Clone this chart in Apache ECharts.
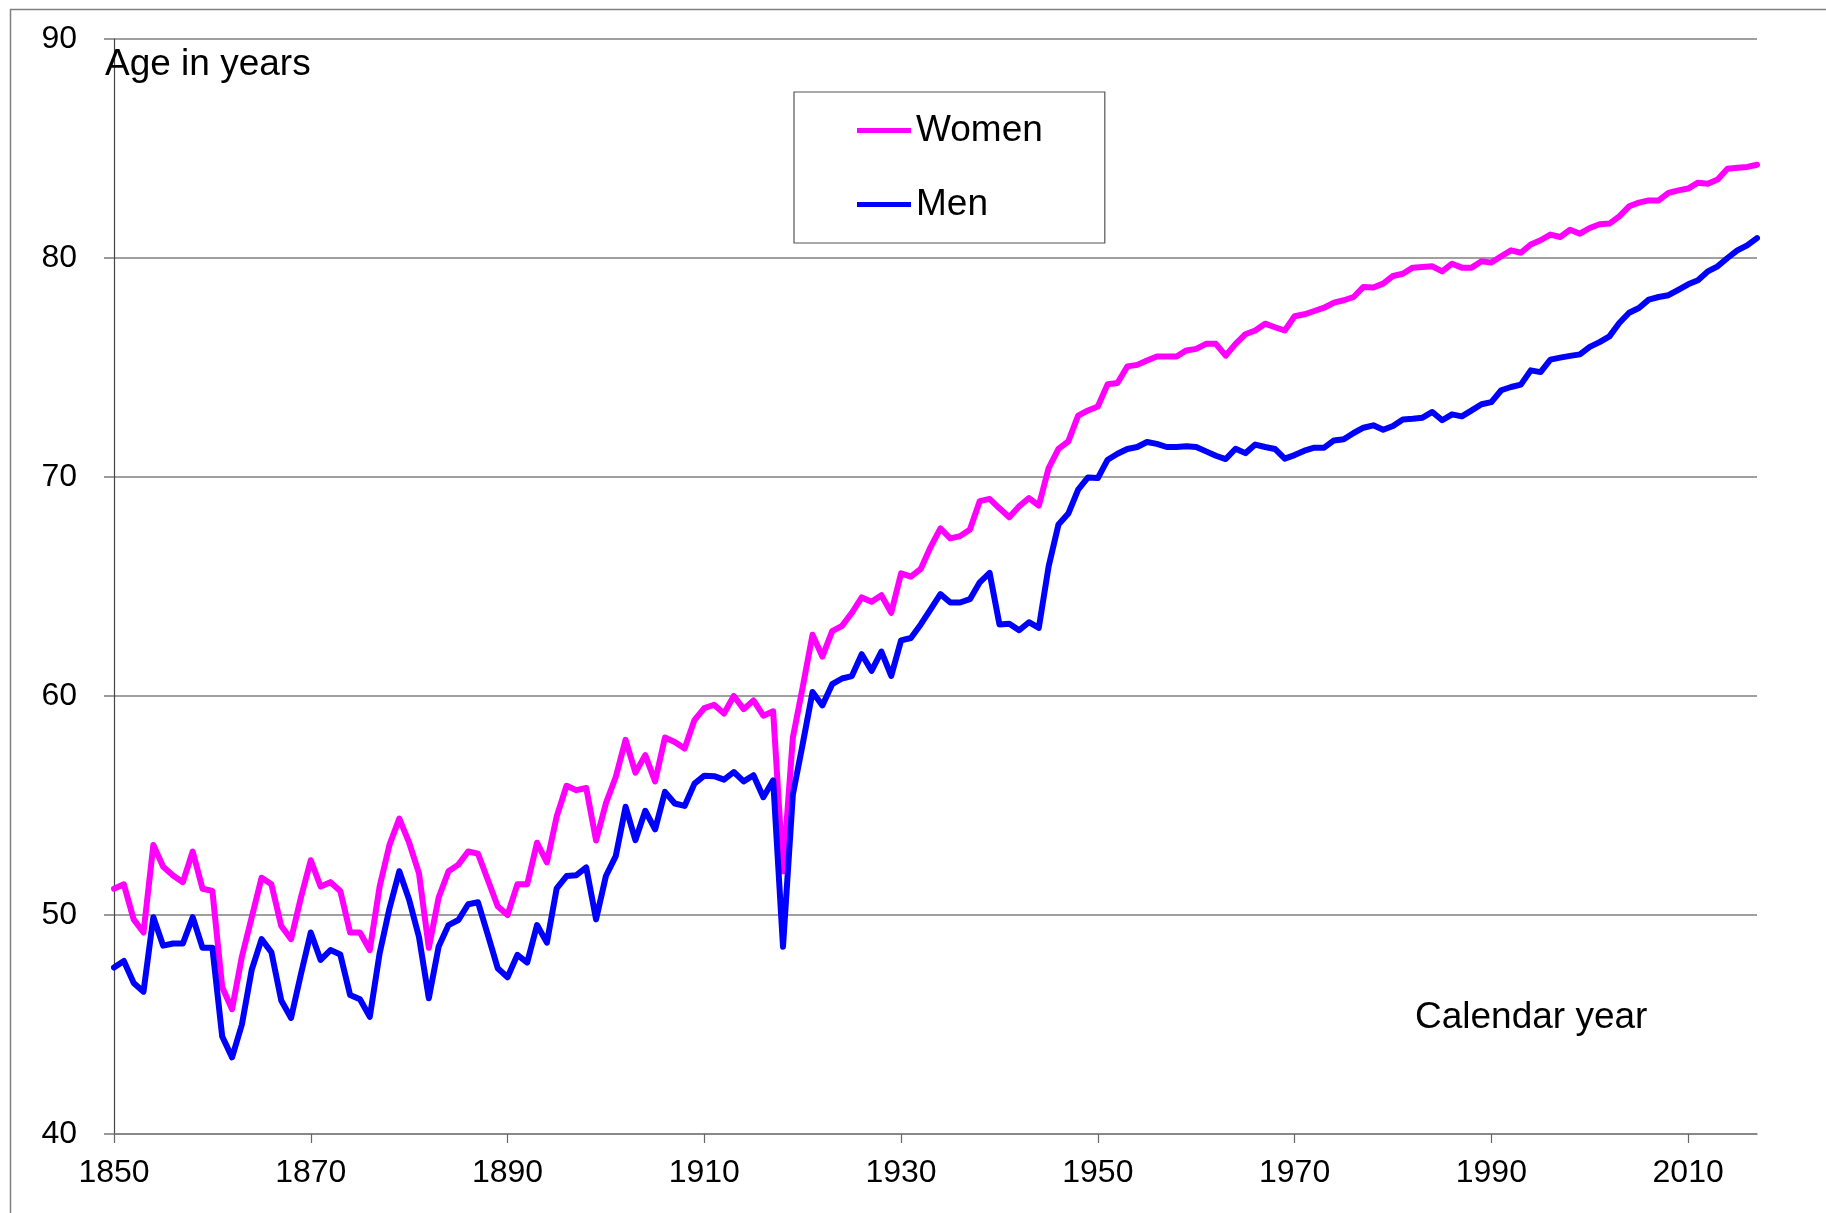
<!DOCTYPE html>
<html>
<head>
<meta charset="utf-8">
<script src="https://cdn.jsdelivr.net/npm/echarts@6/dist/echarts.min.js"></script>
<style>
html,body{margin:0;padding:0;background:#fff;}
#chart{width:1826px;height:1213px;}
</style>
</head>
<body>
<div id="chart"></div>
<script>
var years = [
1850,1851,1852,1853,1854,1855,1856,1857,1858,1859,
1860,1861,1862,1863,1864,1865,1866,1867,1868,1869,
1870,1871,1872,1873,1874,1875,1876,1877,1878,1879,
1880,1881,1882,1883,1884,1885,1886,1887,1888,1889,
1890,1891,1892,1893,1894,1895,1896,1897,1898,1899,
1900,1901,1902,1903,1904,1905,1906,1907,1908,1909,
1910,1911,1912,1913,1914,1915,1916,1917,1918,1919,
1920,1921,1922,1923,1924,1925,1926,1927,1928,1929,
1930,1931,1932,1933,1934,1935,1936,1937,1938,1939,
1940,1941,1942,1943,1944,1945,1946,1947,1948,1949,
1950,1951,1952,1953,1954,1955,1956,1957,1958,1959,
1960,1961,1962,1963,1964,1965,1966,1967,1968,1969,
1970,1971,1972,1973,1974,1975,1976,1977,1978,1979,
1980,1981,1982,1983,1984,1985,1986,1987,1988,1989,
1990,1991,1992,1993,1994,1995,1996,1997,1998,1999,
2000,2001,2002,2003,2004,2005,2006,2007,2008,2009,
2010,2011,2012,2013,2014,2015,2016,2017
];
var women = [
51.2,51.4,49.8,49.2,53.2,52.2,51.8,51.5,52.9,51.2,
51.1,46.7,45.7,48.1,49.9,51.7,51.4,49.5,48.9,50.8,
52.5,51.3,51.5,51.1,49.2,49.2,48.4,51.3,53.2,54.4,
53.3,51.9,48.5,50.8,52.0,52.3,52.9,52.8,51.6,50.4,
50.0,51.4,51.4,53.3,52.4,54.5,55.9,55.7,55.8,53.4,
55.1,56.3,58.0,56.5,57.3,56.1,58.1,57.9,57.6,58.9,
59.45,59.6,59.2,60.0,59.4,59.8,59.1,59.3,52.0,58.1,
60.4,62.8,61.8,62.96,63.2,63.8,64.5,64.3,64.6,63.8,
65.6,65.45,65.8,66.8,67.65,67.2,67.3,67.6,68.9,69.0,
68.57,68.16,68.66,69.04,68.69,70.41,71.28,71.63,72.8,73.04,
73.22,74.24,74.29,75.05,75.12,75.32,75.5,75.5,75.5,75.78,
75.85,76.08,76.08,75.54,76.08,76.52,76.69,77.0,76.84,76.69,
77.34,77.43,77.58,77.73,77.96,78.07,78.22,78.68,78.65,78.83,
79.18,79.28,79.56,79.59,79.62,79.39,79.74,79.56,79.56,79.85,
79.79,80.08,80.35,80.24,80.62,80.81,81.07,80.96,81.29,81.11,
81.37,81.54,81.57,81.9,82.36,82.53,82.63,82.63,82.97,83.09,
83.17,83.44,83.39,83.58,84.08,84.12,84.16,84.26
];
var men = [
47.6,47.9,46.9,46.5,49.9,48.6,48.7,48.7,49.9,48.5,
48.5,44.45,43.5,45.0,47.5,48.9,48.3,46.1,45.3,47.3,
49.2,47.95,48.4,48.2,46.35,46.15,45.35,48.25,50.3,52.0,
50.7,49.0,46.2,48.56,49.54,49.77,50.49,50.58,49.09,47.57,
47.16,48.18,47.83,49.54,48.74,51.22,51.78,51.82,52.17,49.8,
51.78,52.69,54.94,53.42,54.76,53.91,55.62,55.09,54.98,56.0,
56.36,56.34,56.18,56.53,56.1,56.38,55.38,56.15,48.55,55.49,
57.8,60.18,59.57,60.54,60.8,60.91,61.91,61.15,62.03,60.92,
62.54,62.65,63.27,63.96,64.65,64.27,64.27,64.42,65.19,65.62,
63.27,63.3,63.0,63.37,63.11,65.92,67.83,68.33,69.42,69.98,
69.95,70.79,71.06,71.28,71.37,71.6,71.51,71.37,71.37,71.4,
71.37,71.17,70.97,70.82,71.29,71.09,71.48,71.37,71.28,70.84,
71.0,71.2,71.34,71.34,71.67,71.72,72.01,72.25,72.36,72.16,
72.33,72.63,72.66,72.71,72.97,72.59,72.86,72.77,73.04,73.32,
73.42,73.96,74.11,74.22,74.87,74.79,75.36,75.45,75.53,75.6,
75.94,76.16,76.42,77.03,77.5,77.72,78.1,78.22,78.3,78.55,
78.8,78.98,79.39,79.62,80.0,80.35,80.58,80.91
];
var xTicks = [1850,1870,1890,1910,1930,1950,1970,1990,2010];
var yTicks = [40,50,60,70,80,90];
var seriesNames = ['Women','Men'];
var yTitle = 'Age in years';
var xTitle = 'Calendar year';

var FONT = '"Liberation Sans", Arial, Helvetica, sans-serif';
function pairs(vals){ return years.map(function(y,i){ return [y, vals[i]]; }); }

var chart = echarts.init(document.getElementById('chart'), null, {renderer:'canvas'});
chart.setOption({
  backgroundColor: '#ffffff',
  animation: false,
  grid: {left:114, right:69, top:39, bottom:79, containLabel:false},
  legend: {
    orient: 'vertical',
    left: 794, top: 92,
    padding: [20, 62, 20, 63],
    itemGap: 37,
    itemWidth: 54, itemHeight: 5,
    icon: 'rect',
    borderColor: '#555', borderWidth: 1.2,
    backgroundColor: '#fff',
    textStyle: {fontFamily: FONT, fontSize: 37, color:'#000'},
    data: seriesNames
  },
  xAxis: {
    type: 'value', min: 1850, max: 2017,
    axisLine: {show:true, onZero:false, lineStyle:{color:'#808080', width:1.6}},
    axisTick: {show:true, length:9, inside:false, customValues: xTicks, lineStyle:{color:'#666', width:1.2}},
    axisLabel: {customValues: xTicks, margin:23, fontFamily: FONT, fontSize:32, color:'#000',
                formatter: function(v){ return String(v); }},
    splitLine: {show:false}
  },
  yAxis: {
    type: 'value', min: 40, max: 90, interval: 10,
    axisLine: {show:true, lineStyle:{color:'#444', width:1.2}},
    axisTick: {show:true, length:10, lineStyle:{color:'#808080', width:1.6}},
    axisLabel: {margin:37, fontFamily: FONT, fontSize:32, color:'#000'},
    splitLine: {show:true, lineStyle:{color:'#808080', width:1.6}}
  },
  series: [
    {name: seriesNames[0], type:'line', data: pairs(women), symbol:'none', smooth:false,
     lineStyle:{color:'#ff00ff', width:6, cap:'round', join:'round'}, itemStyle:{color:'#ff00ff'}, z:3},
    {name: seriesNames[1], type:'line', data: pairs(men), symbol:'none', smooth:false,
     lineStyle:{color:'#0000ff', width:6, cap:'round', join:'round'}, itemStyle:{color:'#0000ff'}, z:4}
  ],
  graphic: [
    {type:'rect', left: 8, top: 7, shape:{x:8, y:7, width:1840, height:1240},
     style:{fill:'none', stroke:'#808080', lineWidth:1.5}, silent:true, z:-1},
    {type:'text', x:105, y:65, style:{text:yTitle, fontFamily:FONT, fontSize:37, fill:'#000', verticalAlign:'middle', align:'left'}, z:10},
    {type:'text', x:1415, y:1018, style:{text:xTitle, fontFamily:FONT, fontSize:37, fill:'#000', verticalAlign:'middle', align:'left'}, z:10}
  ]
});
</script>
</body>
</html>
